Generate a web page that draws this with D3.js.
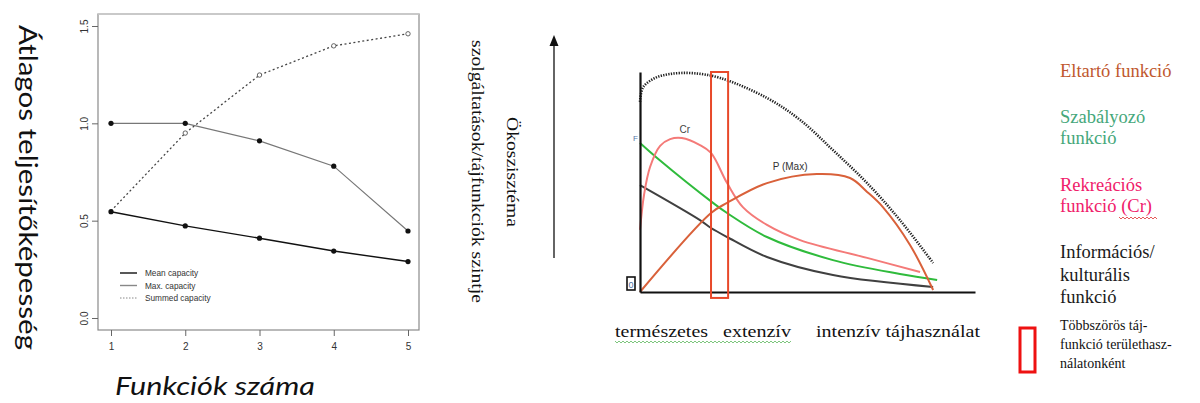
<!DOCTYPE html>
<html><head><meta charset="utf-8">
<script src="https://cdn.jsdelivr.net/npm/d3@7"></script>
<style>html,body{margin:0;padding:0;background:#fff;}svg{display:block;}</style>
</head><body>
<svg id="c" width="1200" height="403"></svg>
<script>
// ---------- Left chart data ----------
const funcCounts = [1, 2, 3, 4, 5];
const meanCapacity = [0.546, 0.473, 0.41, 0.344, 0.29];
const maxCapacity = [1.0, 1.0, 0.91, 0.78, 0.447];
const summedCapacity = [0.55, 0.95, 1.248, 1.398, 1.46];
const leftYTicks = [0.0, 0.5, 1.0, 1.5];
const leftLegend = ["Mean capacity", "Max. capacity", "Summed capacity"];

// ---------- Right chart data (intensity 0-100, level 0-100) ----------
const totalX = [0, 0.9, 4.5, 9, 15.5, 23.9, 37.9, 47.8, 57.6, 67.8, 77.6, 87.5];
const totalY = [86.4, 93.0, 97.3, 99.1, 99.5, 97.3, 88.2, 78.2, 64.5, 49.5, 32.7, 13.2];
const recreX = [0, 1.2, 3.0, 6.0, 9.0, 12.5, 17.9, 21.2, 26.0, 30.7, 37.9, 47.8, 67.8, 83.6];
const recreY = [28.2, 44.1, 56.8, 66.4, 69.5, 70.0, 66.8, 63.2, 49.5, 38.6, 30.5, 23.6, 15.5, 9.1];
const regulX = [0, 5.1, 21.8, 26.0, 37.9, 57.6, 77.6, 88.7];
const regulY = [67.7, 60.9, 40.5, 35.9, 25.0, 14.5, 8.2, 5.5];
const infoX = [0, 17.9, 21.2, 26.0, 37.9, 57.6, 87.5];
const infoY = [48.6, 32.7, 29.1, 25.0, 15.9, 7.7, 2.3];
const provX = [0, 21.2, 26.0, 37.9, 52.8, 62.7, 67.8, 72.5, 80.6, 87.5];
const provY = [0, 35.9, 40.5, 49.5, 53.6, 51.8, 45.5, 38.6, 21.4, 0.9];
const multiBand = [21.2, 26.3];
const xCategories = ["természetes", "extenzív", "intenzív tájhasználat"];
const rightLegend = [
  {lines: ["Eltartó funkció"], color: "#c0582e"},
  {lines: ["Szabályozó", "funkció"], color: "#45a77a"},
  {lines: ["Rekreációs", "funkció (Cr)"], color: "#f0206a"},
  {lines: ["Információs/", "kulturális", "funkció"], color: "#1a1a1a"}
];
const multiLegend = ["Többszörös táj-", "funkció területhasz-", "nálatonként"];

const SERIF = "'Liberation Serif', 'Times New Roman', serif";
const SANS = "'Liberation Sans', Arial, sans-serif";
const TITLE = "Lato, 'Open Sans', sans-serif";

const svg = d3.select("#c");

// ================= LEFT CHART =================
const x1 = d3.scaleLinear().domain([1, 5]).range([111, 408]);
const y1 = d3.scaleLinear().domain([0, 1.5]).range([318, 26]);
const L = svg.append("g");

L.append("rect").attr("x", 98).attr("y", 14).attr("width", 321).attr("height", 316)
  .attr("fill", "none").attr("stroke", "#8a8a8a").attr("stroke-width", 1.2);
L.append("line").attr("x1", 98).attr("x2", 419).attr("y1", 14).attr("y2", 14)
  .attr("stroke", "#cfcfcf").attr("stroke-width", 1.5);

const xAx = L.append("g").attr("transform", "translate(0,330)")
  .call(d3.axisBottom(x1).tickValues(funcCounts).tickFormat(d3.format("d")).tickSize(6).tickSizeOuter(0));
xAx.select(".domain").remove();
xAx.selectAll("line").attr("stroke", "#666");
xAx.selectAll("text").style("font-family", SANS).attr("font-size", 10).attr("fill", "#333").attr("dy", "1.05em");

const yAx = L.append("g").attr("transform", "translate(98,0)")
  .call(d3.axisLeft(y1).tickValues(leftYTicks).tickFormat(d3.format(".1f")).tickSize(6).tickSizeOuter(0));
yAx.select(".domain").remove();
yAx.selectAll("line").attr("stroke", "#666");
yAx.selectAll("text").style("font-family", SANS).attr("font-size", 10).attr("fill", "#333")
  .attr("x", 0).attr("dy", 0)
  .attr("transform", "translate(-10,0) rotate(-90)")
  .attr("text-anchor", "middle");

const line1 = vals => d3.line().x((d, i) => x1(funcCounts[i])).y(d => y1(d))(vals);
L.append("path").attr("d", line1(summedCapacity)).attr("fill", "none").attr("stroke", "#444")
  .attr("stroke-width", 1.3).attr("stroke-dasharray", "2,2.5");
L.append("path").attr("d", line1(maxCapacity)).attr("fill", "none").attr("stroke", "#777").attr("stroke-width", 1.2);
L.append("path").attr("d", line1(meanCapacity)).attr("fill", "none").attr("stroke", "#111").attr("stroke-width", 1.4);

[meanCapacity, maxCapacity].forEach(s => {
  L.selectAll(null).data(s).enter().append("circle")
    .attr("cx", (d, i) => x1(funcCounts[i])).attr("cy", d => y1(d)).attr("r", 2.6).attr("fill", "#111");
});
L.selectAll(null).data(summedCapacity.slice(1)).enter().append("circle")
  .attr("cx", (d, i) => x1(funcCounts[i + 1])).attr("cy", d => y1(d)).attr("r", 2.2)
  .attr("fill", "#fff").attr("stroke", "#555").attr("stroke-width", 0.9);

const legStyles = [{c: "#111", w: 1.4, da: null}, {c: "#888", w: 1.4, da: null}, {c: "#888", w: 1, da: "1.5,1.5"}];
leftLegend.forEach((t, i) => {
  const yy = 273 + i * 12.5;
  L.append("line").attr("x1", 120).attr("x2", 137).attr("y1", yy).attr("y2", yy)
    .attr("stroke", legStyles[i].c).attr("stroke-width", legStyles[i].w).attr("stroke-dasharray", legStyles[i].da);
  L.append("text").attr("x", 145).attr("y", yy + 3.5).text(t)
    .style("font-family", SANS).attr("font-size", 9).attr("fill", "#333")
    .attr("transform", `translate(145,0) scale(0.92,1) translate(-145,0)`);
});

svg.append("text").text("Átlagos teljesítőképesség")
  .attr("transform", "translate(19,25) rotate(90)")
  .style("font-family", TITLE).attr("font-size", 25).attr("fill", "#111")
  .attr("textLength", 325).attr("lengthAdjust", "spacingAndGlyphs");
svg.append("text").text("Funkciók száma")
  .attr("x", 115).attr("y", 395)
  .style("font-family", TITLE).attr("font-style", "italic").attr("font-size", 26).attr("fill", "#111")
  .attr("textLength", 200).attr("lengthAdjust", "spacingAndGlyphs");

// ================= MIDDLE TEXT + ARROW =================
svg.append("text").text("Ökoszisztéma")
  .attr("transform", "translate(507,117) rotate(90)")
  .style("font-family", SERIF).attr("font-size", 16).attr("fill", "#111")
  .attr("textLength", 110).attr("lengthAdjust", "spacingAndGlyphs");
svg.append("text").text("szolgáltatások/tájfunkciók szintje")
  .attr("transform", "translate(472,40) rotate(90)")
  .style("font-family", SERIF).attr("font-size", 16).attr("fill", "#111")
  .attr("textLength", 263).attr("lengthAdjust", "spacingAndGlyphs");
svg.append("line").attr("x1", 554).attr("x2", 554).attr("y1", 258).attr("y2", 44)
  .attr("stroke", "#111").attr("stroke-width", 1.3);
svg.append("path").attr("d", "M554,35 L558.5,46 L549.5,46 Z").attr("fill", "#111");

// ================= RIGHT CHART =================
const x2 = d3.scaleLinear().domain([0, 100]).range([640, 975]);
const y2 = d3.scaleLinear().domain([0, 100]).range([292, 72]);
const R = svg.append("g");

const curve = (xs, ys) => d3.line().curve(d3.curveCatmullRom.alpha(0.5))
  .x((d, i) => x2(xs[i])).y(d => y2(d))(ys);

R.append("path").attr("d", curve(totalX, totalY)).attr("fill", "none").attr("stroke", "#222")
  .attr("stroke-width", 2.6).attr("stroke-dasharray", "1.3,1.3");
R.append("path").attr("d", curve(infoX, infoY)).attr("fill", "none").attr("stroke", "#404040").attr("stroke-width", 2);
R.append("path").attr("d", curve(regulX, regulY)).attr("fill", "none").attr("stroke", "#2fbb3c").attr("stroke-width", 2);
R.append("path").attr("d", curve(recreX, recreY)).attr("fill", "none").attr("stroke", "#f47a78").attr("stroke-width", 2);
R.append("path").attr("d", curve(provX, provY)).attr("fill", "none").attr("stroke", "#d9613a").attr("stroke-width", 2);

const ax2 = R.append("g").attr("transform", "translate(0,292)")
  .call(d3.axisBottom(x2).tickValues([]).tickSizeOuter(0));
ax2.select(".domain").attr("stroke", "#111").attr("stroke-width", 2.2);
const ay2 = R.append("g").attr("transform", "translate(640,0)")
  .call(d3.axisLeft(y2).tickValues([]).tickSizeOuter(0));
ay2.select(".domain").attr("stroke", "#111").attr("stroke-width", 2.2);

R.append("rect").attr("x", x2(multiBand[0])).attr("width", x2(multiBand[1]) - x2(multiBand[0]))
  .attr("y", y2(100)).attr("height", y2(-2.7) - y2(100))
  .attr("fill", "none").attr("stroke", "#e8492a").attr("stroke-width", 2);

R.append("text").text("Cr").attr("x", x2(13.4)).attr("y", y2(72.5)).attr("text-anchor", "middle")
  .style("font-family", SANS).attr("font-size", 10).attr("fill", "#444");
R.append("text").text("P (Max)").attr("x", x2(44.8)).attr("y", y2(55.5)).attr("text-anchor", "middle")
  .style("font-family", SANS).attr("font-size", 10).attr("fill", "#333");
R.append("text").text("F").attr("x", x2(-0.6)).attr("y", y2(68.5)).attr("text-anchor", "end")
  .style("font-family", SANS).attr("font-size", 8).attr("fill", "#5575a8");
R.append("rect").attr("x", 627).attr("y", 277).attr("width", 8).attr("height", 13)
  .attr("fill", "#fff").attr("stroke", "#111").attr("stroke-width", 1.6);
R.append("text").text("0").attr("x", 631).attr("y", 287.5).attr("text-anchor", "middle")
  .style("font-family", SANS).attr("font-size", 9).attr("fill", "#4a6fa0");

const catX = [615, 723, 816];
const catW = [93, 68, 164];
xCategories.forEach((t, i) => {
  R.append("text").text(t).attr("x", catX[i]).attr("y", 337)
    .style("font-family", SERIF).attr("font-size", 17).attr("fill", "#111")
    .attr("textLength", catW[i]).attr("lengthAdjust", "spacingAndGlyphs");
});
let wv = "M615,341";
for (let xx = 615, k = 0; xx < 791; xx += 2, k++) wv += ` L${xx + 2},${k % 2 ? 341 : 343}`;
R.append("path").attr("d", wv).attr("fill", "none").attr("stroke", "#5cb85c").attr("stroke-width", 0.8);

const legY = [77, 123, 191, 258];
rightLegend.forEach((g, i) => {
  g.lines.forEach((t, j) => {
    svg.append("text").text(t).attr("x", 1060).attr("y", legY[i] + j * (i === 3 ? 22.5 : 20.5))
      .style("font-family", SERIF).attr("font-size", 18.5).attr("fill", g.color);
  });
});
let wv2 = "M1119,217";
for (let xx = 1119, k = 0; xx < 1157; xx += 2, k++) wv2 += ` L${xx + 2},${k % 2 ? 217 : 219}`;
svg.append("path").attr("d", wv2).attr("fill", "none").attr("stroke", "#e03030").attr("stroke-width", 0.8);

multiLegend.forEach((t, j) => {
  svg.append("text").text(t).attr("x", 1060).attr("y", 330 + j * 19)
    .style("font-family", SERIF).attr("font-size", 14).attr("fill", "#111");
});
svg.append("rect").attr("x", 1020).attr("y", 328).attr("width", 15).attr("height", 44)
  .attr("fill", "none").attr("stroke", "#ee1111").attr("stroke-width", 3);
</script>
</body></html>
